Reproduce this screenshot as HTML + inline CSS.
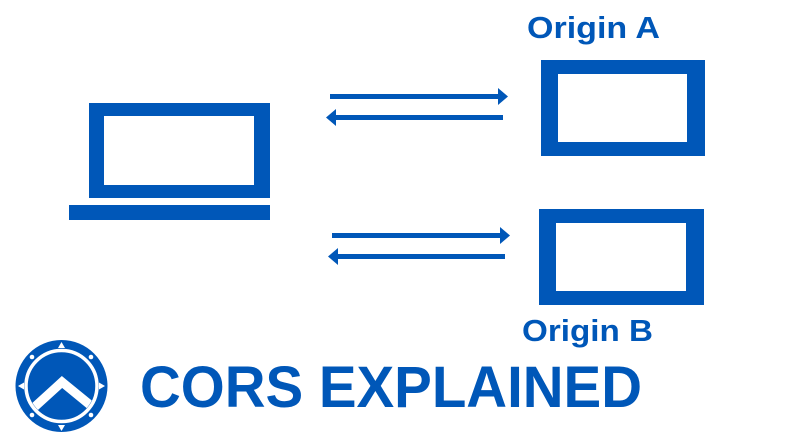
<!DOCTYPE html>
<html><head><meta charset="utf-8"><style>
html,body{margin:0;padding:0;background:#fff;}
svg{display:block;}
</style></head><body>
<svg width="795" height="447" viewBox="0 0 795 447" xmlns="http://www.w3.org/2000/svg">
<defs>
<clipPath id="c"><circle cx="61.5" cy="386" r="33.5"/></clipPath>
</defs>
<g fill="#0057b8">
<!-- laptop -->
<path fill-rule="evenodd" d="M89 103H270V198H89Z M104 116V185H254V116Z"/>
<rect x="69" y="205" width="201" height="15"/>
<!-- origin A -->
<path fill-rule="evenodd" d="M541 60H705V156H541Z M558 74V142H687V74Z"/>
<!-- origin B -->
<path fill-rule="evenodd" d="M539 209H704V305H539Z M556 223V291H686V223Z"/>
<!-- arrows -->
<rect x="330" y="94" width="170" height="5"/>
<polygon points="498,88 508,96.5 498,105"/>
<rect x="333" y="115" width="170" height="5"/>
<polygon points="336,109 326,117.5 336,126"/>
<rect x="332" y="233" width="170" height="5"/>
<polygon points="500,227 510,235.5 500,244"/>
<rect x="335" y="254" width="170" height="5"/>
<polygon points="338,248 328,256.5 338,265"/>
</g>
<g fill="#0057b8" font-family="'Liberation Sans',sans-serif" font-weight="bold">
<text x="527" y="38" font-size="31" textLength="133" lengthAdjust="spacingAndGlyphs">Origin A</text>
<text x="522" y="341" font-size="31" textLength="131" lengthAdjust="spacingAndGlyphs">Origin B</text>
<text x="140" y="407" font-size="58" textLength="502" lengthAdjust="spacingAndGlyphs">CORS EXPLAINED</text>
</g>
<!-- logo -->
<circle cx="61.5" cy="386" r="46" fill="#0057b8"/>
<circle cx="61.5" cy="386" r="35.5" fill="none" stroke="#fff" stroke-width="3.5"/>
<g clip-path="url(#c)">
<polyline points="18,422 62,382 106,418" fill="none" stroke="#fff" stroke-width="9"/>
</g>
<g fill="#fff">
<polygon points="61.5,342 58,348 65,348"/>
<polygon points="61.5,431 58,425 65,425"/>
<polygon points="18,386 24,382.5 24,389.5"/>
<polygon points="105,386 99,382.5 99,389.5"/>
<circle cx="32" cy="357" r="2.3"/>
<circle cx="91" cy="357" r="2.3"/>
<circle cx="32" cy="415" r="2.3"/>
<circle cx="91" cy="415" r="2.3"/>
</g>
</svg>
</body></html>
